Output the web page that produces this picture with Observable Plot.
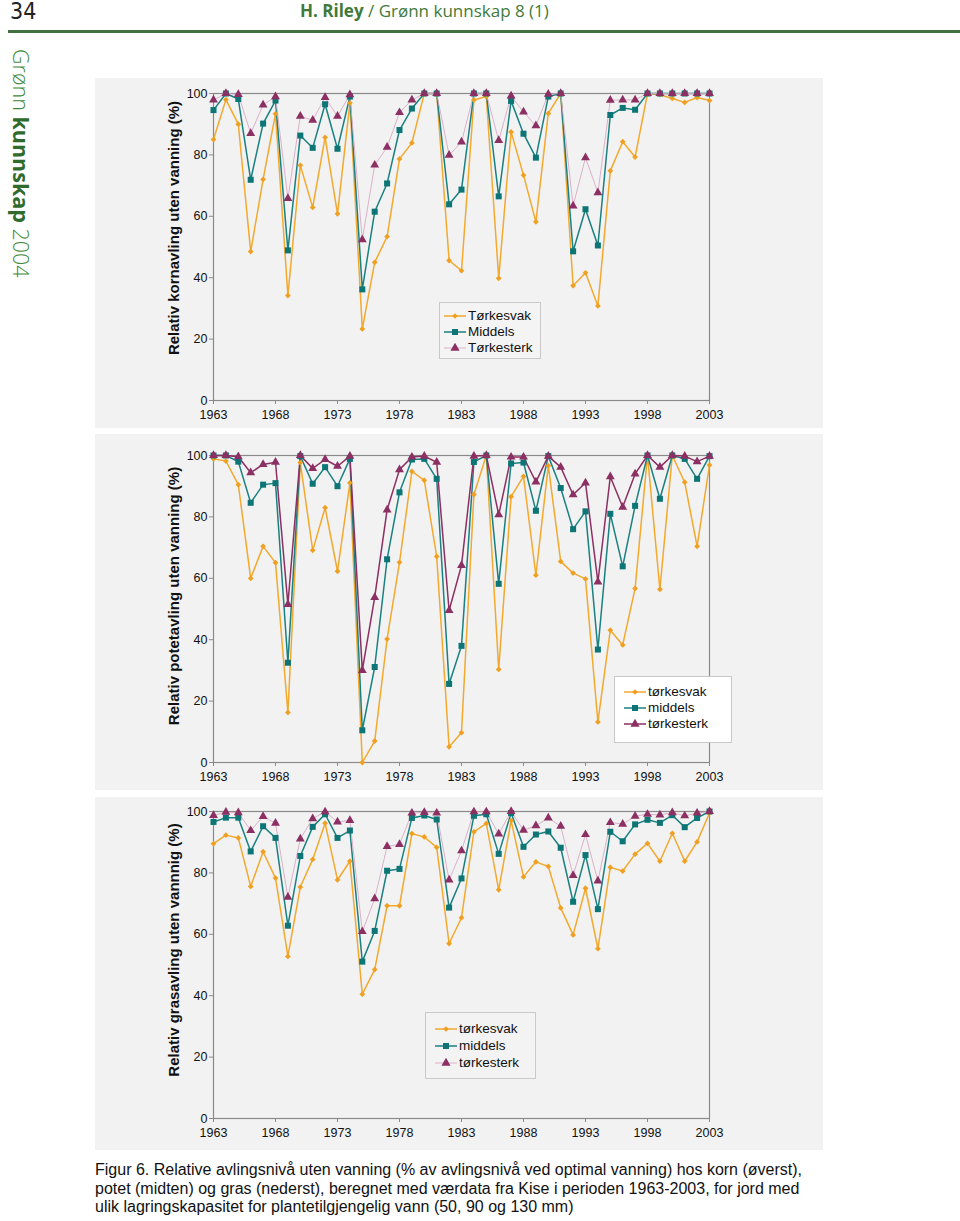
<!DOCTYPE html>
<html>
<head>
<meta charset="utf-8">
<script src="https://cdn.jsdelivr.net/npm/d3@7"></script>
<script src="https://cdn.jsdelivr.net/npm/@observablehq/plot@0.6"></script>
<style>
  html, body { margin: 0; padding: 0; background: #fff; }
  body { width: 960px; height: 1221px; position: relative; overflow: hidden; font-family: "Liberation Sans", Arial, sans-serif; }
  .abs { position: absolute; }
  .pagenum { left: 10px; top: -2px; font-family: "Liberation Sans Narrow", "DejaVu Sans Condensed", sans-serif; font-size: 23px; color: #222; }
  .running { left: 300px; top: -1px; font-family: "Open Sans", sans-serif; font-size: 17px; color: #3f7a3a; white-space: nowrap; }
  .running b { font-weight: 700; }
  .rule { left: 8px; top: 30px; width: 952px; height: 3px; background: #43703f; }
  .side { left: 7px; top: 49px; writing-mode: vertical-rl; font-family: "Open Sans", sans-serif; font-size: 21.5px; color: #3f8a3a; white-space: nowrap; }
  .side .l { font-weight: 300; }
  .side b { font-weight: 700; color: #2f6b2c; }
  .legend { border: 1px solid #c9c9c9; box-sizing: border-box; font-size: 13.5px; color: #111; }
  .legend .row { position: absolute; left: 0; height: 16px; line-height: 16px; white-space: nowrap; }
  .legend svg { vertical-align: middle; margin-right: 1px; }
  .caption { left: 95px; top: 1161px; font-size: 16px; line-height: 18.7px; color: #111; white-space: nowrap; }
</style>
</head>
<body>
<div class="abs pagenum">34</div>
<div class="abs running"><b>H. Riley</b> / Grønn kunnskap 8 (1)</div>
<div class="abs rule"></div>
<div class="abs side"><span class="l">Grønn</span> <b>kunnskap</b> <span class="l">2004</span></div>
<div id="charts"></div>
<div class="abs caption">Figur 6. Relative avlingsnivå uten vanning (% av avlingsnivå ved optimal vanning) hos korn (øverst),<br>potet (midten) og gras (nederst), beregnet med værdata fra Kise i perioden 1963-2003, for jord med<br>ulik lagringskapasitet for plantetilgjengelig vann (50, 90 og 130 mm)</div>
<script>
// ---- data ----
const years = d3.range(1963, 2004);
const xTicks = [1963, 1968, 1973, 1978, 1983, 1988, 1993, 1998, 2003];
const yTicks = [0, 20, 40, 60, 80, 100];

// Korn (grain)
const kornSvak = [85, 98, 90, 48.5, 72, 93.4, 34.2, 76.6, 62.9, 85.7, 60.8, 96.9, 23.3, 45, 53.4, 78.7, 83.9, 100, 100, 45.6, 42.3, 97.9, 99, 39.8, 87.5, 73.4, 58.2, 93.5, 100, 37.4, 41.6, 30.8, 74.8, 84.3, 79.3, 100, 99.6, 98.4, 97.1, 98.7, 97.7];
const kornMiddels = [94.6, 100, 98.2, 71.9, 90.2, 97.7, 48.9, 86.3, 82.3, 96.5, 82, 99, 36.2, 61.5, 70.7, 88.1, 95.1, 100, 100, 63.9, 68.7, 100, 100, 66.5, 97.6, 86.9, 79.1, 99, 100, 48.6, 62.3, 50.5, 93, 95.3, 94.7, 100, 100, 100, 100, 100, 100];
const kornSterk = [97.9, 100, 99.7, 87, 96.3, 99, 65.8, 92.6, 91.3, 98.7, 92.6, 99.6, 52.4, 76.7, 82.5, 93.8, 97.9, 100, 100, 79.9, 84.2, 100, 100, 84.7, 99.2, 94, 89.5, 99.8, 100, 63.4, 79.1, 67.7, 97.8, 97.9, 97.9, 100, 100, 100, 100, 100, 100];

// Potet (potato)
const potetSvak = [98.9, 98.2, 90.5, 60, 70.4, 65.1, 16.3, 97.7, 69.1, 83, 62.3, 91.1, 0, 7, 40.2, 65.2, 94.8, 91.9, 67.1, 5.1, 9.7, 87.3, 100, 30.3, 86.6, 93.2, 61, 96.7, 65.5, 61.7, 59.8, 13.2, 43.1, 38.3, 56.7, 100, 56.4, 100, 91.3, 70.4, 96.9];
const potetMiddels = [100, 100, 98, 84.6, 90.5, 91, 32.5, 99.8, 90.8, 96.2, 90, 98.9, 10.5, 31.1, 66.2, 88, 98.7, 98.9, 92.4, 25.6, 38, 97.9, 100, 58.2, 97.4, 97.7, 82, 99.8, 89.4, 76, 81.8, 36.8, 81, 63.9, 83.6, 100, 85.9, 100, 98.9, 92.4, 99.8];
const potetSterk = [100, 100, 99.6, 94.4, 97.1, 97.8, 51.5, 100, 95.8, 98.7, 96.5, 99.8, 30, 53.8, 82.3, 95.4, 99.5, 99.8, 97.8, 49.5, 64.2, 99.8, 100, 80.7, 99.5, 99.5, 91.4, 99.8, 96.2, 87.2, 91.1, 58.8, 93.1, 83.2, 94, 100, 96.2, 100, 99.8, 98, 99.8];

// Gras (grass)
const grasSvak = [89.5, 92.3, 91.4, 75.6, 86.9, 78.3, 52.8, 75.4, 84.4, 96.2, 77.7, 83.8, 40.5, 48.5, 69.3, 69.3, 92.8, 91.7, 88.3, 57, 65.4, 93.4, 96.1, 74.5, 97, 78.7, 83.6, 82.1, 68.6, 59.8, 75, 55.3, 81.8, 80.6, 86.1, 89.6, 83.8, 92.9, 83.8, 90.1, 99.5];
const grasMiddels = [96.6, 98, 98, 87, 95.2, 91.4, 62.8, 85.5, 95, 99.1, 91.4, 93.8, 51.1, 61.1, 80.7, 81.3, 97.9, 98.7, 97.4, 68.7, 78.2, 98.6, 99.1, 86.2, 99.5, 88.5, 92.5, 93.5, 88.2, 70.6, 85.8, 68.2, 93.4, 90.3, 95.8, 97.3, 96.3, 98.8, 94.9, 97.9, 100];
const grasSterk = [98.7, 99.8, 99.6, 93.8, 98.4, 96.2, 72.1, 91.1, 97.7, 99.9, 96.6, 97.1, 60.9, 71.6, 88.6, 89.3, 99.5, 99.7, 99.5, 77.7, 87.2, 99.9, 99.9, 92.7, 100, 93.9, 95.4, 97.9, 95.2, 79.2, 92.5, 77.4, 96.4, 95.9, 98.5, 99.1, 98.9, 99.6, 98.6, 99.5, 100];

const labelsUpper = ["Tørkesvak", "Middels", "Tørkesterk"];
const labelsLower = ["tørkesvak", "middels", "tørkesterk"];
const yLabels = ["Relativ kornavling uten vanning (%)", "Relativ potetavling uten vanning (%)", "Relativ grasavling uten vannnig (%)"];

// ---- styles ----
const ORANGE = "#f2a92e", ORANGE_DOT = "#f0a020";
const TEAL = "#1a8080", TEAL_DOT = "#0d7575";
const PURPLE = "#8c2f62", PINK = "#d9a9c4";

const panels = [
  {svak: kornSvak, mid: kornMiddels, sterk: kornSterk, label: yLabels[0], names: labelsUpper,
   top: 78, height: 350, mt: 15, mb: 28, sterkLine: PINK, sterkW: 0.9, labelShift: -19,
   legend: {left: 439, top: 302, w: 102, h: 57, bg: "#f4f4f4", textLeft: 28, rows: [5, 21, 37]}},
  {svak: potetSvak, mid: potetMiddels, sterk: potetSterk, label: yLabels[1], names: labelsLower,
   top: 434, height: 356, mt: 21, mb: 28, sterkLine: PURPLE, sterkW: 1.5, labelShift: -13,
   legend: {left: 614, top: 676, w: 118, h: 67, bg: "#ffffff", textLeft: 33, rows: [7, 23, 39]}},
  {svak: grasSvak, mid: grasMiddels, sterk: grasSterk, label: yLabels[2], names: labelsLower,
   top: 797, height: 353, mt: 14, mb: 32, sterkLine: PINK, sterkW: 0.9, labelShift: -15,
   legend: {left: 425, top: 1012, w: 111, h: 67, bg: "#f3f3f3", textLeft: 33, rows: [8, 25, 42]}}
];

function rows(values) { return years.map((year, i) => ({year, v: values[i]})); }

function glyph(kind, lineColor, lineW, dotColor) {
  const ns = "http://www.w3.org/2000/svg";
  const svg = document.createElementNS(ns, "svg");
  svg.setAttribute("width", 24); svg.setAttribute("height", 10);
  const l = document.createElementNS(ns, "line");
  l.setAttribute("x1", 1); l.setAttribute("x2", 23); l.setAttribute("y1", 5); l.setAttribute("y2", 5);
  l.setAttribute("stroke", lineColor); l.setAttribute("stroke-width", lineW);
  svg.appendChild(l);
  const sym = kind === "diamond" ? d3.symbolDiamond2 : kind === "square" ? d3.symbolSquare : d3.symbolTriangle;
  const size = kind === "diamond" ? 20 : 36;
  const p = document.createElementNS(ns, "path");
  p.setAttribute("d", d3.symbol(sym, size)());
  p.setAttribute("transform", "translate(12,5)");
  p.setAttribute("fill", dotColor);
  svg.appendChild(p);
  return svg;
}

const body = document.body;
for (const P of panels) {
  const chart = Plot.plot({
    width: 728,
    height: P.height,
    marginLeft: 118,
    marginRight: 114,
    marginTop: P.mt,
    marginBottom: P.mb,
    style: {background: "#f2f2f2", fontFamily: "Liberation Sans, Arial, sans-serif", fontSize: "12.5px", color: "#111"},
    x: {domain: [1963, 2003]},
    y: {domain: [0, 100]},
    marks: [
      Plot.frame({stroke: "#8a8a8a", strokeWidth: 1.2}),
      Plot.axisX({ticks: xTicks, tickFormat: d => String(d), tickSize: 4, tickPadding: 6, stroke: "#8a8a8a", fill: "#111", label: null}),
      Plot.axisY({ticks: yTicks, tickSize: 4, tickPadding: 2, stroke: "#8a8a8a", fill: "#111",
                  label: P.label, labelAnchor: "center", labelOffset: 45, labelArrow: "none"}),
      Plot.lineY(rows(P.svak), {x: "year", y: "v", stroke: ORANGE, strokeWidth: 1.5}),
      Plot.lineY(rows(P.mid), {x: "year", y: "v", stroke: TEAL, strokeWidth: 1.5}),
      Plot.lineY(rows(P.sterk), {x: "year", y: "v", stroke: P.sterkLine, strokeWidth: P.sterkW}),
      Plot.dot(rows(P.svak), {x: "year", y: "v", symbol: "diamond2", r: 2.6, fill: ORANGE_DOT}),
      Plot.dot(rows(P.mid), {x: "year", y: "v", symbol: "square", r: 3.4, fill: TEAL_DOT}),
      Plot.dot(rows(P.sterk), {x: "year", y: "v", symbol: "triangle", r: 3.3, fill: PURPLE})
    ]
  });
  const wrap = document.createElement("div");
  wrap.className = "abs";
  wrap.style.left = "95px";
  wrap.style.top = P.top + "px";
  wrap.appendChild(chart);
  body.appendChild(wrap);
  // y-axis label: bold, slightly larger, nudged up like the original
  chart.querySelectorAll("text").forEach(t => {
    if (t.textContent === P.label) {
      t.setAttribute("font-weight", "bold");
      t.setAttribute("font-size", "15px");
      const tr = t.getAttribute("transform") || "";
      t.setAttribute("transform", `translate(0,${P.labelShift}) ` + tr);
    }
  });

  // legend
  const L = P.legend;
  const lg = document.createElement("div");
  lg.className = "abs legend";
  Object.assign(lg.style, {left: L.left + "px", top: L.top + "px", width: L.w + "px", height: L.h + "px", background: L.bg});
  const specs = [
    ["diamond", ORANGE, 1.5, ORANGE_DOT],
    ["square", TEAL, 1.5, TEAL_DOT],
    ["triangle", P.sterkLine, P.sterkW, PURPLE]
  ];
  specs.forEach((s, i) => {
    const r = document.createElement("div");
    r.className = "row";
    r.style.top = L.rows[i] + "px";
    r.style.left = (L.textLeft - 25) + "px";
    r.appendChild(glyph(...s));
    r.appendChild(document.createTextNode(P.names[i]));
    lg.appendChild(r);
  });
  body.appendChild(lg);
}
</script>
</body>
</html>
